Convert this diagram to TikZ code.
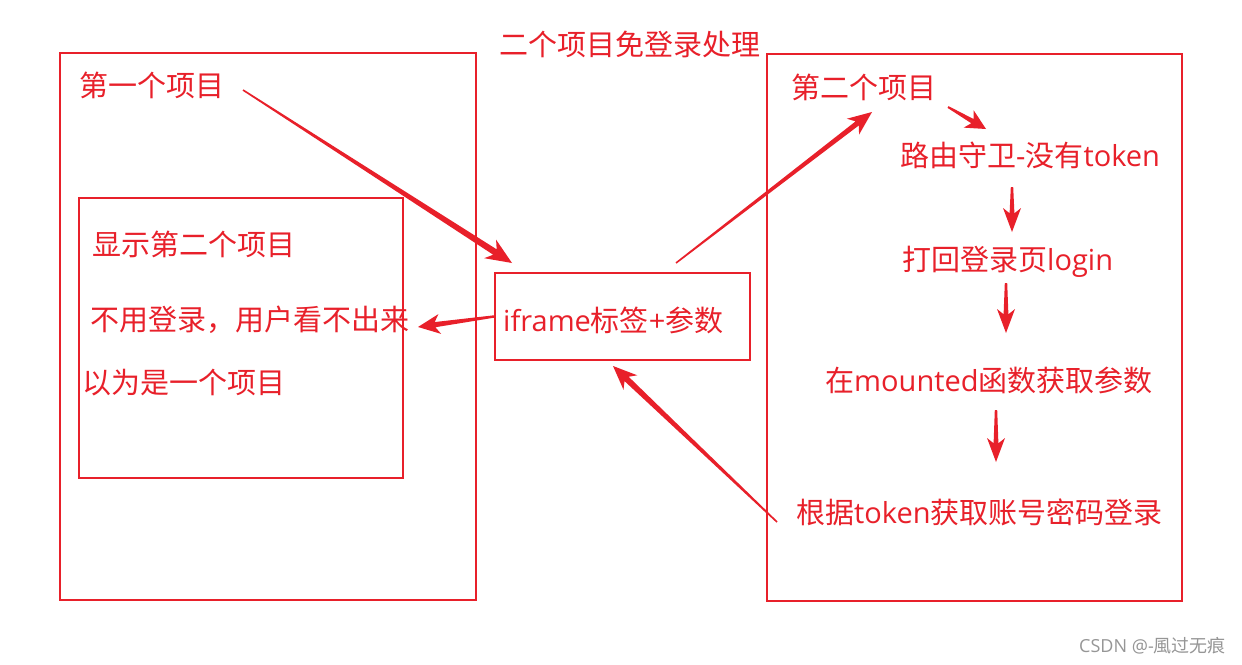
\documentclass[tikz,border=0pt]{standalone}
\usepackage{fontspec}
\setmainfont{Noto Sans CJK SC}
\newfontfamily\lat{Open Sans}
\newcommand{\la}[1]{{\lat #1}}
\usetikzlibrary{calc}
\definecolor{rd}{RGB}{232,32,42}
\definecolor{wm}{RGB}{150,150,150}
\tikzset{
  box/.style={draw=rd, line width=2pt},
  lbl/.style={text=rd, font=\fontsize{29}{31}\selectfont, inner sep=0pt, anchor=west},
}
% tapered arrow: #1 start, #2 tip, #3 shaft half width, #4 head length, #5 head half width, #6 start half width
\newcommand{\tarrow}[6]{%
  \coordinate (tb) at ($(#2)!#4!(#1)$);
  \coordinate (tc) at ($(#2)!0.78*#4!(#1)$);
  \fill[rd] ($(#1)!#6!-90:(#2)$) -- ($(tc)!#3!-90:(#2)$) -- ($(tb)!#5!-90:(#2)$) -- (#2)
    -- ($(tb)!#5!90:(#2)$) -- ($(tc)!#3!90:(#2)$) -- ($(#1)!#6!90:(#2)$) -- cycle;
}
\begin{document}
\begin{tikzpicture}[x=1pt,y=-1pt]
\fill[white] (0,0) rectangle (1242,664);
\useasboundingbox (0,0) rectangle (1242,664);
% boxes
\draw[box] (60,53) rectangle (476,600);
\draw[box] (79,198) rectangle (403,478);
\draw[box] (767,54) rectangle (1182,601);
\node[box, minimum width=255pt, minimum height=87pt, inner sep=0pt] (ifr) at (622.5,316.5) {};
% texts
\node[lbl] (title) at (499,44) {二个项目免登录处理};
\node[lbl] (p1) at (79,85) {第一个项目};
\node[lbl] (show) at (92,244) {显示第二个项目};
\node[lbl] (nol) at (90,320) {不用登录，用户看不出来};
\node[lbl] (same) at (82,383) {以为是一个项目};
\node[lbl] (ift) at (503,320) {\la{iframe}标签\la{+}参数};
\node[lbl] (p2) at (791,87) {第二个项目};
\node[lbl] (guard) at (900,155) {路由守卫\la{-}没有\la{token}};
\node[lbl] (back) at (902,262) {打回登录页\la{login}};
\node[lbl] (mnt) at (825,380) {在\la{mounted}函数获取参数};
\node[lbl] (tok) at (796,512) {根据\la{token}获取账号密码登录};
\node[text=wm, font=\fontsize{18}{20}\selectfont, inner sep=0pt, anchor=east] (wmk) at (1226,646) {\la{CSDN @-}風过无痕};
% connector end points
\coordinate (a1s) at (243,90);  \coordinate (a1e) at (512,263);
\coordinate (a2s) at (676,263); \coordinate (a2e) at (872,112);
\coordinate (a3s) at (948,107); \coordinate (a3e) at (986,129);
\coordinate (a4s) at (1012,187); \coordinate (a4e) at (1012,232);
\coordinate (a5s) at (1006,283); \coordinate (a5e) at (1006,333);
\coordinate (a6s) at (996,410); \coordinate (a6e) at (996,462);
\coordinate (a7s) at (ifr.west); \coordinate (a7e) at (418,327);
\coordinate (a8s) at (777,522); \coordinate (a8e) at (613,366);
\tarrow{a1s}{a1e}{3.2pt}{26pt}{11pt}{0.8pt}
\tarrow{a2s}{a2e}{2.6pt}{24pt}{10pt}{0.8pt}
\tarrow{a3s}{a3e}{2.4pt}{20pt}{10pt}{1pt}
\tarrow{a4s}{a4e}{2.4pt}{24pt}{9pt}{1.2pt}
\tarrow{a5s}{a5e}{2.4pt}{24pt}{9pt}{1.2pt}
\tarrow{a6s}{a6e}{2.4pt}{24pt}{9pt}{1.2pt}
\tarrow{a7s}{a7e}{2.6pt}{22pt}{10pt}{1.2pt}
\tarrow{a8s}{a8e}{3pt}{24pt}{10pt}{0.8pt}
\end{tikzpicture}
\end{document}
